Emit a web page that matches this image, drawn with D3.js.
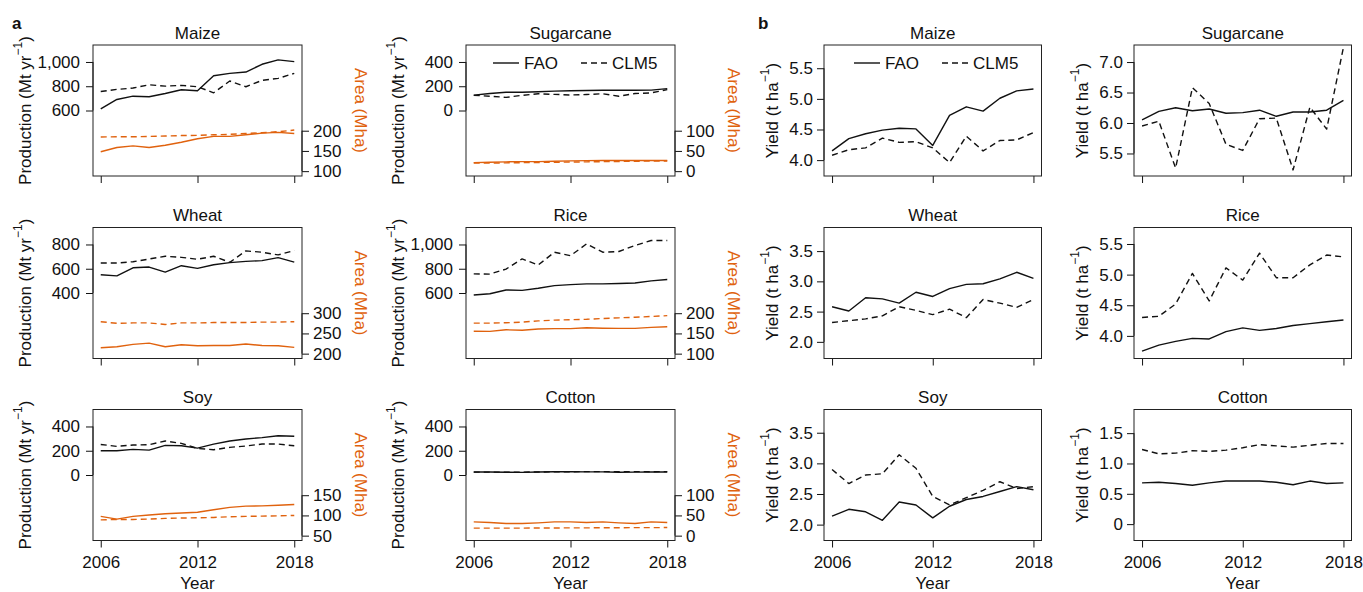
<!DOCTYPE html>
<html>
<head>
<meta charset="utf-8">
<script src="https://cdn.jsdelivr.net/npm/d3@7"></script>
<style>
  body { margin: 0; background: #fff; }
  svg text { font-family: "Liberation Sans", Arial, Helvetica, sans-serif; fill: #111; }
</style>
</head>
<body>
<svg id="chart" width="1363" height="592"></svg>
<script>
// --- data ---
const years = [2006, 2007, 2008, 2009, 2010, 2011, 2012, 2013, 2014, 2015, 2016, 2017, 2018];
const crops = ["Maize", "Sugarcane", "Wheat", "Rice", "Soy", "Cotton"];

// production, Mt per year (one row per crop)
const prodFAO = [
  [614, 691, 718, 713, 740, 771, 763, 887, 906, 917, 981, 1017, 1003],
  [127, 140, 150, 150, 155, 160, 163, 165, 167, 167, 167, 168, 180],
  [550, 541, 608, 614, 572, 625, 603, 633, 650, 661, 667, 692, 655],
  [583, 594, 625, 622, 639, 661, 669, 675, 675, 678, 683, 700, 711],
  [200, 200, 211, 205, 244, 241, 222, 255, 280, 297, 308, 324, 319],
  [25, 25, 23, 22, 25, 27, 27, 26, 26, 23, 24, 26, 25]
];
const prodCLM = [
  [757, 774, 785, 812, 801, 807, 796, 746, 843, 796, 848, 865, 906],
  [125, 118, 108, 125, 138, 133, 128, 132, 138, 118, 140, 145, 172],
  [647, 647, 658, 680, 703, 694, 678, 703, 653, 747, 736, 714, 750],
  [758, 756, 797, 881, 831, 936, 908, 1005, 936, 942, 992, 1033, 1033],
  [252, 236, 247, 250, 280, 261, 219, 208, 228, 239, 255, 255, 241],
  [24, 24, 24, 24, 25, 26, 27, 28, 28, 28, 28, 27, 28]
];
// harvested area, Mha
const areaFAO = [
  [148, 158.5, 162.6, 158.5, 164, 171.5, 180, 186, 186, 190, 194, 196, 193],
  [21, 22, 23, 23.5, 23.5, 24.5, 25.5, 26, 26.5, 26.5, 26.5, 26.5, 26.5],
  [214.6, 217, 223, 226, 217, 222, 219.5, 220, 220, 224, 220, 219.5, 215.4],
  [155.3, 155, 159, 158, 161, 162, 162, 164, 163, 162.6, 162.6, 165, 166.7],
  [97.6, 91, 97.6, 101, 104, 106, 108, 114, 120, 123, 123.6, 125, 127],
  [34, 32.5, 30, 30, 31.7, 34, 34, 32.5, 34, 31.7, 30, 34, 32.5]
];
const areaCLM = [
  [184.5, 185, 185, 186, 187, 188, 188.6, 190, 191, 193, 195, 197.6, 201.6],
  [20, 20, 20.5, 21, 21.5, 22, 22.5, 23, 23.5, 24, 24.5, 25, 25],
  [279, 275, 276, 276, 272, 276, 276, 277, 277, 277, 278, 278, 279],
  [175.6, 175.6, 176.4, 178, 181, 183, 184, 185, 187, 188.6, 190, 192, 194],
  [89, 90, 90, 91, 92.7, 93.5, 94.3, 95, 96.7, 97.6, 98.4, 99, 100],
  [18.5, 18.5, 18.7, 18.7, 18.9, 19, 19.2, 19.3, 19.5, 19.6, 19.8, 19.9, 20]
];
// yield, t per ha
const yieldFAO = [
  [4.15, 4.35, 4.43, 4.49, 4.52, 4.51, 4.24, 4.73, 4.87, 4.80, 5.01, 5.13, 5.16],
  [6.05, 6.19, 6.25, 6.20, 6.23, 6.16, 6.17, 6.21, 6.11, 6.18, 6.18, 6.21, 6.37],
  [2.58, 2.51, 2.73, 2.71, 2.64, 2.82, 2.75, 2.88, 2.95, 2.96, 3.04, 3.15, 3.05],
  [3.75, 3.85, 3.91, 3.96, 3.95, 4.07, 4.13, 4.09, 4.12, 4.17, 4.20, 4.23, 4.26],
  [2.14, 2.25, 2.21, 2.07, 2.37, 2.32, 2.11, 2.30, 2.41, 2.46, 2.54, 2.62, 2.57],
  [0.68, 0.69, 0.67, 0.64, 0.68, 0.71, 0.71, 0.71, 0.69, 0.65, 0.71, 0.67, 0.68]
];
const yieldCLM = [
  [4.08, 4.17, 4.20, 4.36, 4.29, 4.30, 4.20, 3.96, 4.39, 4.15, 4.32, 4.33, 4.45],
  [5.95, 6.03, 5.26, 6.58, 6.32, 5.65, 5.55, 6.07, 6.08, 5.23, 6.26, 5.90, 7.24],
  [2.32, 2.35, 2.38, 2.43, 2.58, 2.52, 2.45, 2.54, 2.40, 2.70, 2.64, 2.57, 2.70],
  [4.30, 4.32, 4.52, 5.02, 4.57, 5.11, 4.91, 5.35, 4.95, 4.95, 5.16, 5.32, 5.29],
  [2.90, 2.67, 2.81, 2.83, 3.14, 2.92, 2.46, 2.32, 2.44, 2.56, 2.70, 2.59, 2.62],
  [1.23, 1.16, 1.17, 1.21, 1.20, 1.22, 1.26, 1.31, 1.29, 1.27, 1.30, 1.33, 1.33]
];

// axis limits and ticks per crop
const prodLims = [[100, 1100], [-500, 500], [-100, 900], [100, 1100], [-500, 500], [-500, 500]];
const prodTicks = [[600, 800, 1000], [0, 200, 400], [400, 600, 800], [600, 800, 1000], [0, 200, 400], [0, 200, 400]];
const areaLims = [[100, 400], [0, 300], [200, 500], [100, 400], [50, 350], [0, 300]];
const areaTicks = [[100, 150, 200], [0, 50, 100], [200, 250, 300], [100, 150, 200], [50, 100, 150], [0, 50, 100]];
const yieldLims = [[3.82, 5.80], [5.21, 7.20], [1.805, 3.81], [3.71, 5.69], [1.82, 3.80], [-0.19, 1.81]];
const yieldTicks = [[4, 4.5, 5, 5.5], [5.5, 6, 6.5, 7], [2, 2.5, 3, 3.5], [4, 4.5, 5, 5.5], [2, 2.5, 3, 3.5], [0, 0.5, 1, 1.5]];
const yearTicks = [2006, 2012, 2018];

// --- layout ---
const ORANGE = "#e0620e";
const FS = 17;
const rowTop = [45, 227.5, 409.5];
const boxH = 131;
const colA = [93, 466], boxWA = 209;
const colB = [824, 1134], boxWB = 217.5;
const tickLen = 7;
const dash = "6,4";

const svg = d3.select("#chart");

// R style 4% padding
const pad = ([lo, hi]) => [lo - 0.04 * (hi - lo), hi + 0.04 * (hi - lo)];
const fmtComma = d3.format(",");
const fmtYield = d => d === 0 ? "0" : d3.format(".1f")(d);

function styleAxis(g, ticksRight) {
  g.select(".domain").remove();
  g.selectAll(".tick line").attr("stroke", "#111").attr("stroke-width", 1);
  g.selectAll(".tick text")
    .attr("font-size", FS)
    .attr("font-family", "'Liberation Sans', Arial, sans-serif")
    .attr("fill", "#111");
}

function drawPanel(opts) {
  const { x0, y0, w, h, title, showYear } = opts;
  const g = svg.append("g");
  const x = d3.scaleLinear().domain(pad([2006, 2018])).range([x0, x0 + w]);

  // left axis
  const yL = d3.scaleLinear().domain(pad(opts.leftLims)).range([y0 + h, y0]);
  const axL = g.append("g").attr("transform", `translate(${x0},0)`)
    .call(d3.axisLeft(yL).tickValues(opts.leftTicks).tickFormat(opts.leftFmt).tickSize(tickLen).tickPadding(opts.leftPadding));
  styleAxis(axL);
  g.append("line").attr("x1", x0).attr("x2", x0)
    .attr("y1", yL(d3.min(opts.leftTicks))).attr("y2", yL(d3.max(opts.leftTicks)))
    .attr("stroke", "#111");

  // bottom axis
  const axB = g.append("g").attr("transform", `translate(0,${y0 + h})`)
    .call(d3.axisBottom(x).tickValues(yearTicks).tickFormat(showYear ? d3.format("d") : "").tickSize(tickLen).tickPadding(8));
  styleAxis(axB);

  // lines
  const line = (ys) => d3.line().x((d, i) => x(years[i])).y(d => ys(d));
  const addLine = (vals, ys, color, dashed) => g.append("path")
    .datum(vals)
    .attr("d", line(ys))
    .attr("fill", "none")
    .attr("stroke", color)
    .attr("stroke-width", 1.4)
    .attr("stroke-linejoin", "round")
    .attr("stroke-dasharray", dashed ? dash : null);

  if (opts.rightLims) {
    const yR = d3.scaleLinear().domain(pad(opts.rightLims)).range([y0 + h, y0]);
    const axR = g.append("g").attr("transform", `translate(${x0 + w},0)`)
      .call(d3.axisRight(yR).tickValues(opts.rightTicks).tickFormat(d3.format("d")).tickSize(tickLen).tickPadding(4));
    styleAxis(axR);
    g.append("line").attr("x1", x0 + w).attr("x2", x0 + w)
      .attr("y1", yR(d3.min(opts.rightTicks))).attr("y2", yR(d3.max(opts.rightTicks)))
      .attr("stroke", "#111");
    addLine(opts.rightFAO, yR, ORANGE, false);
    addLine(opts.rightCLM, yR, ORANGE, true);

    g.append("text")
      .attr("transform", `translate(${x0 + w + 58},${y0 + h / 2}) rotate(90)`)
      .attr("text-anchor", "middle")
      .attr("dominant-baseline", "central")
      .attr("font-size", FS)
      .style("fill", ORANGE)
      .text("Area (Mha)");
  }

  addLine(opts.leftFAO, yL, "#111", false);
  addLine(opts.leftCLM, yL, "#111", true);

  // box
  g.append("rect").attr("x", x0).attr("y", y0).attr("width", w).attr("height", h)
    .attr("fill", "none").attr("stroke", "#222").attr("stroke-width", 1);

  // title
  g.append("text").attr("x", x0 + w / 2).attr("y", y0 - 6.5)
    .attr("text-anchor", "middle").attr("font-size", FS).text(title);

  // left label with superscript
  const lab = g.append("text")
    .attr("transform", `translate(${x0 - opts.labelOffset},${y0 + h / 2}) rotate(-90)`)
    .attr("text-anchor", "middle")
    .attr("dominant-baseline", "central")
    .attr("font-size", FS);
  lab.append("tspan").text(opts.labelMain);
  lab.append("tspan").attr("font-size", 12).attr("dy", -7).text("\u22121");
  lab.append("tspan").attr("dy", 7).text(")");

  if (showYear) {
    g.append("text").attr("x", x0 + w / 2).attr("y", 589)
      .attr("text-anchor", "middle").attr("font-size", FS).text("Year");
  }

  if (opts.legend) {
    const lx = x0 + opts.legend, ly = 63;
    g.append("line").attr("x1", lx).attr("x2", lx + 26).attr("y1", ly).attr("y2", ly)
      .attr("stroke", "#111").attr("stroke-width", 1.4);
    g.append("text").attr("x", lx + 31).attr("y", ly).attr("dominant-baseline", "central")
      .attr("font-size", FS).text("FAO");
    g.append("line").attr("x1", lx + 88).attr("x2", lx + 115).attr("y1", ly).attr("y2", ly)
      .attr("stroke", "#111").attr("stroke-width", 1.4).attr("stroke-dasharray", dash);
    g.append("text").attr("x", lx + 119).attr("y", ly).attr("dominant-baseline", "central")
      .attr("font-size", FS).text("CLM5");
  }
}

crops.forEach((crop, i) => {
  const row = Math.floor(i / 2), col = i % 2;
  const showYear = row === 2;
  // panel a: production + area
  drawPanel({
    x0: colA[col], y0: rowTop[row], w: boxWA, h: boxH, title: crop, showYear,
    leftLims: prodLims[i], leftTicks: prodTicks[i], leftFmt: fmtComma, leftPadding: 6,
    leftFAO: prodFAO[i], leftCLM: prodCLM[i],
    rightLims: areaLims[i], rightTicks: areaTicks[i],
    rightFAO: areaFAO[i], rightCLM: areaCLM[i],
    labelMain: "Production (Mt yr", labelOffset: 68,
    legend: i === 1 ? 27 : null
  });
  // panel b: yield
  drawPanel({
    x0: colB[col], y0: rowTop[row], w: boxWB, h: boxH, title: crop, showYear,
    leftLims: yieldLims[i], leftTicks: yieldTicks[i], leftFmt: fmtYield, leftPadding: 4,
    leftFAO: yieldFAO[i], leftCLM: yieldCLM[i],
    labelMain: "Yield (t ha", labelOffset: 52,
    legend: i === 0 ? 30 : null
  });
});

svg.append("text").attr("x", 12).attr("y", 29).attr("font-size", FS).attr("font-weight", "bold").text("a");
svg.append("text").attr("x", 758).attr("y", 29).attr("font-size", FS).attr("font-weight", "bold").text("b");
</script>
</body>
</html>
